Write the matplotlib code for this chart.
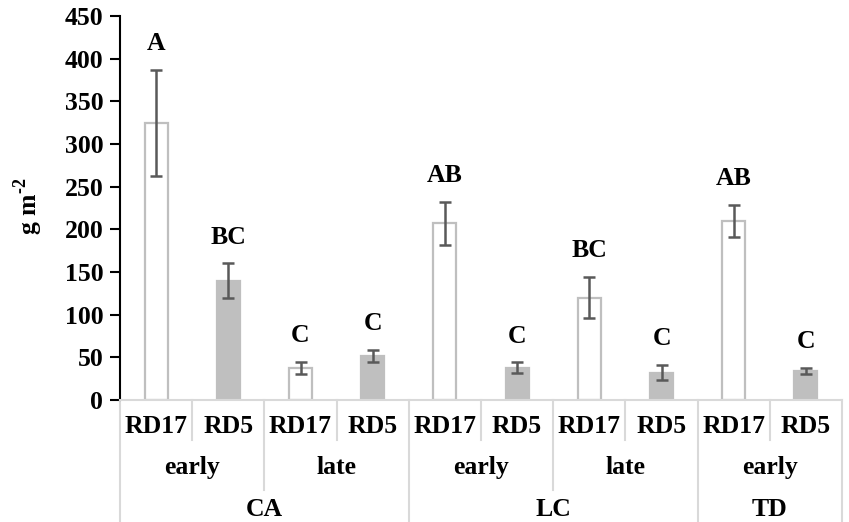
import numpy as np
import matplotlib
matplotlib.use("Agg")
import matplotlib.pyplot as plt
from matplotlib.transforms import blended_transform_factory

# bar data, left to right
sites = ["CA", "CA", "CA", "CA", "LC", "LC", "LC", "LC", "TD", "TD"]
times = ["early", "early", "late", "late", "early", "early", "late", "late", "early", "early"]
cultivars = ["RD17", "RD5", "RD17", "RD5", "RD17", "RD5", "RD17", "RD5", "RD17", "RD5"]
means = [325, 140, 38, 52, 207, 38, 120, 32, 210, 34]
errors = [62, 20, 7, 7, 25, 6, 24, 9, 19, 4]
letters = ["A", "BC", "C", "C", "AB", "C", "BC", "C", "AB", "C"]

plt.rcParams["font.family"] = ["Liberation Serif", "DejaVu Serif"]
plt.rcParams["font.weight"] = "bold"
plt.rcParams["mathtext.fontset"] = "custom"
plt.rcParams["mathtext.rm"] = "Liberation Serif:bold"
plt.rcParams["mathtext.bf"] = "Liberation Serif:bold"

FS = 18.5
W, H = 849, 522
fig = plt.figure(figsize=(W / 100, H / 100), dpi=100)
ax = fig.add_axes([120 / W, 1 - 400 / H, 722 / W, 384 / H])

x = np.arange(len(means))
face = ["white" if c == "RD17" else "#bfbfbf" for c in cultivars]
ax.bar(x, means, width=0.32, color=face, edgecolor="#bfbfbf", linewidth=1.6, zorder=2)
ax.errorbar(x, means, yerr=errors, fmt="none", ecolor="#595959", elinewidth=1.8,
            capsize=4.5, capthick=1.8, zorder=3)
for xi, m, e, lab in zip(x, means, errors, letters):
    ax.annotate(lab, (xi, m + e), xytext=(0, 19), textcoords="offset points",
                ha="center", va="center", fontsize=FS, fontweight="bold")

ax.set_xlim(-0.5, len(means) - 0.5)
ax.set_ylim(0, 450)
ax.set_yticks(np.arange(0, 451, 50))
ax.tick_params(axis="y", direction="out", length=7, width=1.5, labelsize=FS, pad=5)
ax.set_xticks([])
for lab in ax.get_yticklabels():
    lab.set_fontweight("bold")
for s in ["top", "right"]:
    ax.spines[s].set_visible(False)
ax.spines["left"].set_linewidth(1.5)
ax.spines["bottom"].set_color("#d9d9d9")
ax.spines["bottom"].set_linewidth(1.5)
ax.set_ylabel(r"g m$^{\text{-}2}$", fontsize=FS, fontweight="bold")
ax.yaxis.set_label_coords(-0.104, 0.503)

# multi-level category axis
tr = blended_transform_factory(ax.transData, ax.transAxes)
grid_c = "#d9d9d9"
y1, y2, y3 = -0.104, -0.234, -0.318
n = len(means)
for i in range(n + 1):
    b = i - 0.5
    if i == 0 or i == n or sites[i - 1] != sites[i]:
        yb = y3
    elif times[i - 1] != times[i]:
        yb = y2
    else:
        yb = y1
    ax.plot([b, b], [0, yb], color=grid_c, lw=1.5, transform=tr, clip_on=False)

for xi, c in zip(x, cultivars):
    ax.text(xi, -0.070, c, transform=tr, ha="center", va="center", fontsize=FS, fontweight="bold")


def spans(keys):
    out = []
    start = 0
    for i in range(1, len(keys) + 1):
        if i == len(keys) or keys[i] != keys[start]:
            out.append((keys[start], start, i - 1))
            start = i
    return out


for (s, t), a, b in spans(list(zip(sites, times))):
    ax.text((a + b) / 2, -0.177, t, transform=tr, ha="center", va="center", fontsize=FS, fontweight="bold")
for s, a, b in spans(sites):
    ax.text((a + b) / 2, -0.286, s, transform=tr, ha="center", va="center", fontsize=FS, fontweight="bold")

fig.savefig("out.png", dpi=100)
